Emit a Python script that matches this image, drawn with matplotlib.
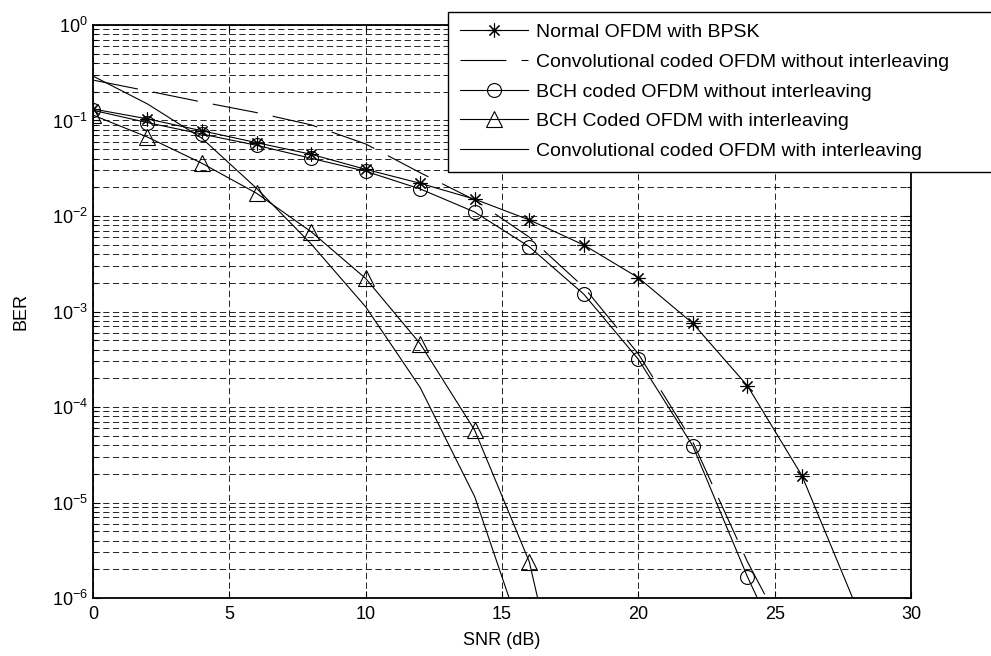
import matplotlib
matplotlib.use("Agg")
import matplotlib.pyplot as plt
from matplotlib.ticker import LogLocator, FixedLocator, NullFormatter

plt.rcParams['font.family'] = ['Liberation Sans', 'DejaVu Sans']
plt.rcParams['mathtext.default'] = 'regular'
plt.rcParams['lines.scale_dashes'] = False

# BER curves
snr_ofdm = [0, 2, 4, 6, 8, 10, 12, 14, 16, 18, 20, 22, 24, 26, 28]
ber_ofdm = [0.132, 0.104, 0.078, 0.0586, 0.0443, 0.0308, 0.022, 0.015,
            0.0091, 0.00497, 0.00226, 7.5e-4, 1.67e-4, 1.91e-5, 8e-7]

snr_conv_noint = [0, 2, 4, 6, 8, 10, 12, 14, 16, 18, 20, 22, 24, 26]
ber_conv_noint = [0.265, 0.204, 0.156, 0.121, 0.090, 0.0568, 0.0284, 0.0147,
                  0.006, 0.0018, 3.6e-4, 4.3e-5, 2.4e-6, 2e-7]

snr_bch_noint = [0, 2, 4, 6, 8, 10, 12, 14, 16, 18, 20, 22, 24, 26]
ber_bch_noint = [0.128, 0.095, 0.072, 0.055, 0.0402, 0.0294, 0.0192, 0.011,
                 0.00477, 0.00152, 3.16e-4, 3.9e-5, 1.67e-6, 1e-7]

snr_bch_int = [0, 2, 4, 6, 8, 10, 12, 14, 16, 18]
ber_bch_int = [0.114, 0.067, 0.0356, 0.0173, 0.00685, 0.00222, 4.6e-4,
               5.7e-5, 2.4e-6, 8e-9]

snr_conv_int = [0, 2, 4, 6, 8, 10, 12, 14, 16]
ber_conv_int = [0.292, 0.149, 0.065, 0.0195, 0.0051, 1.12e-3, 1.6e-4,
                1.15e-5, 2.4e-7]

fig = plt.figure(figsize=(9.91, 6.56), dpi=100)
ax = fig.add_axes([0.0938, 0.0884, 0.8255, 0.8735])

lw = 0.8
ax.semilogy(snr_ofdm, ber_ofdm, color='k', lw=lw, marker=(8, 2, 0),
            ms=10, mew=0.8, label='Normal OFDM with BPSK')
ax.semilogy(snr_conv_noint, ber_conv_noint, color='k', lw=lw,
            dashes=(33, 11), label='Convolutional coded OFDM without interleaving')
ax.semilogy(snr_bch_noint, ber_bch_noint, color='k', lw=lw, marker='o',
            ms=10, mfc='none', mew=0.8, label='BCH coded OFDM without interleaving')
ax.semilogy(snr_bch_int, ber_bch_int, color='k', lw=lw, marker='^',
            ms=11, mfc='none', mew=0.8, label='BCH Coded OFDM with interleaving')
ax.semilogy(snr_conv_int, ber_conv_int, color='k', lw=lw,
            label='Convolutional coded OFDM with interleaving')

ax.set_xlim(0, 30)
ax.set_ylim(1e-6, 1)
ax.xaxis.set_major_locator(FixedLocator([0, 5, 10, 15, 20, 25, 30]))
ax.yaxis.set_major_locator(FixedLocator([1e-6, 1e-5, 1e-4, 1e-3, 1e-2, 1e-1, 1]))
ax.yaxis.set_minor_locator(LogLocator(base=10, subs=range(2, 10), numticks=20))
ax.yaxis.set_minor_formatter(NullFormatter())
ax.set_yticklabels(['$10^{-6}$', '$10^{-5}$', '$10^{-4}$', '$10^{-3}$',
                    '$10^{-2}$', '$10^{-1}$', '$10^{0}$'])

ax.grid(True, which='major', color='k', lw=0.6, dashes=(4.5, 2.5))
ax.grid(True, which='minor', axis='y', color='k', lw=0.6, dashes=(4.5, 2.5))

ax.tick_params(which='both', direction='in', top=True, right=True,
               labelsize=13, width=0.8)
ax.tick_params(which='major', length=5)
ax.tick_params(which='minor', length=3)
ax.tick_params(axis='x', pad=6)
for s in ax.spines.values():
    s.set_linewidth(1.3)

ax.set_xlabel('SNR (dB)', fontsize=13, labelpad=6)
ax.set_ylabel('BER', fontsize=13, labelpad=16)

ax.legend(loc='upper left', bbox_to_anchor=(448 / 991, 0, 560 / 991, 644 / 656),
          bbox_transform=fig.transFigure, mode='expand', borderaxespad=0,
          fontsize=14, handlelength=3.5, handletextpad=0.4, labelspacing=0.62,
          borderpad=0.6, fancybox=False, edgecolor='k', framealpha=1)
leg = ax.get_legend()
leg.get_frame().set_linewidth(1.0)

fig.savefig('out.png', dpi=100)
